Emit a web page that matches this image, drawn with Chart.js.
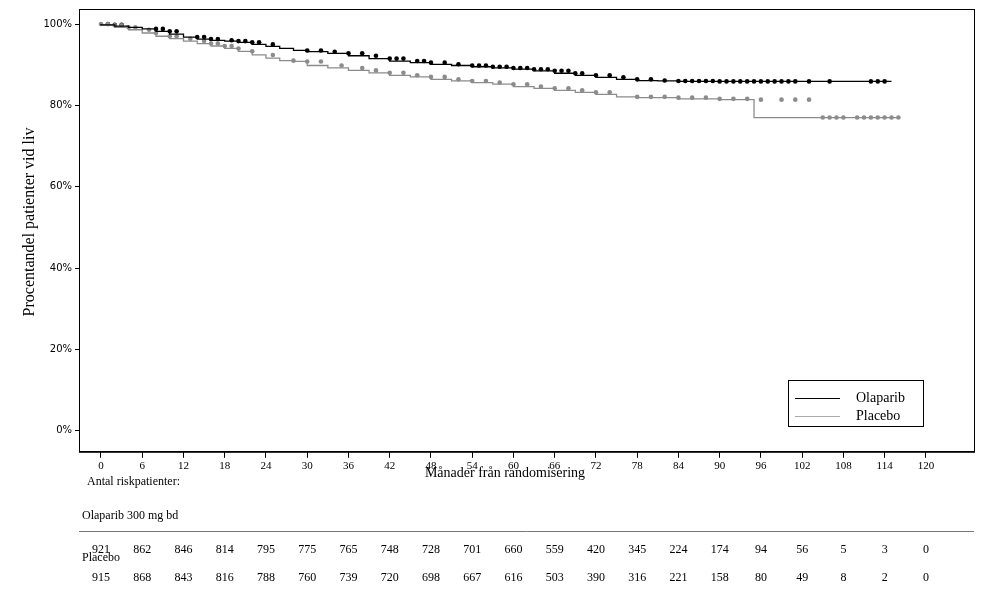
<!DOCTYPE html>
<html>
<head>
<meta charset="utf-8">
<script src="https://cdn.jsdelivr.net/npm/chart.js@4.4.1/dist/chart.umd.min.js"></script>
<style>
  html, body { margin: 0; padding: 0; background: #fff; }
  #wrap { width: 982px; height: 593px; }
</style>
</head>
<body>
<div id="wrap"><canvas id="km"></canvas></div>
<script>
// --- Data ---
const xTicks = [0, 6, 12, 18, 24, 30, 36, 42, 48, 54, 60, 66, 72, 78, 84, 90, 96, 102, 108, 114, 120];
const yTicks = [0, 20, 40, 60, 80, 100];

const olaTimes = [0, 2, 4, 6, 8, 10, 12, 14, 16, 18, 20, 22, 24, 26, 28, 30, 33, 36, 39, 42, 45, 48, 51, 54, 57, 60, 63, 66, 69, 72, 75, 78, 81, 84, 90, 115];
const olaSurv = [100, 99.8, 99.5, 99.2, 98.8, 98.2, 97.5, 96.8, 96.3, 96, 95.8, 95.5, 95, 94.5, 94, 93.5, 93.2, 92.8, 92.2, 91.5, 90.9, 90.5, 90.1, 89.8, 89.5, 89.2, 88.9, 88.5, 87.9, 87.4, 86.9, 86.4, 86.1, 86, 85.9, 85.9];
const plaTimes = [0, 2, 4, 6, 8, 10, 12, 14, 16, 18, 20, 22, 24, 26, 28, 30, 33, 36, 39, 42, 45, 48, 51, 54, 57, 60, 63, 66, 69, 72, 75, 78, 84, 90, 95, 104.5, 116];
const plaSurv = [100, 99.7, 99.2, 98.6, 97.8, 97, 96.4, 95.8, 95.2, 94.6, 94, 93.3, 92.4, 91.6, 91, 90.8, 89.8, 89.2, 88.6, 88, 87.4, 87, 86.4, 86, 85.6, 85.2, 84.6, 84.2, 83.7, 83.2, 82.7, 82.1, 81.9, 81.6, 81.4, 77, 77];

const olaCensor = [1, 2, 3, 8, 9, 10, 11, 14, 15, 16, 17, 19, 20, 21, 22, 23, 25, 30, 32, 34, 36, 38, 40, 42, 43, 44, 46, 47, 48, 50, 52, 54, 55, 56, 57, 58, 59, 60, 61, 62, 63, 64, 65, 66, 67, 68, 69, 70, 72, 74, 76, 78, 80, 82, 84, 85, 86, 87, 88, 89, 90, 91, 92, 93, 94, 95, 96, 97, 98, 99, 100, 101, 103, 106, 112, 113, 114];
const plaCensor = [0, 1, 2, 3, 4, 5, 7, 8, 10, 11, 13, 15, 16, 17, 18, 19, 20, 22, 25, 28, 30, 32, 35, 38, 40, 42, 44, 46, 48, 50, 52, 54, 56, 58, 60, 62, 64, 66, 68, 70, 72, 74, 78, 80, 82, 84, 86, 88, 90, 92, 94, 96, 99, 101, 103, 105, 106, 107, 108, 110, 111, 112, 113, 114, 115, 116];

const olaRisk = [921, 862, 846, 814, 795, 775, 765, 748, 728, 701, 660, 559, 420, 345, 224, 174, 94, 56, 5, 3, 0];
const plaRisk = [915, 868, 843, 816, 788, 760, 739, 720, 698, 667, 616, 503, 390, 316, 221, 158, 80, 49, 8, 2, 0];

// --- Helpers ---
function stepValue(times, surv, t) {
    let v = surv[0];
    for (let i = 0; i < times.length; i++) {
        if (times[i] <= t) v = surv[i];
    }
    return v;
}
function toPoints(times, surv) {
    return times.map((t, i) => ({ x: t, y: surv[i] }));
}
function censorPoints(ct, times, surv) {
    return ct.map(t => ({ x: t, y: stepValue(times, surv, t) }));
}

const SERIF = '"Liberation Serif", "DejaVu Serif", serif';
const OLA = '#000000';
const PLA = '#8c8c8c';

// --- Extra drawing: frame, legend, labels, risk table ---
const extras = {
    id: 'extras',
    afterDraw(chart) {
        const ctx = chart.ctx;
        const a = chart.chartArea;
        const xs = chart.scales.x;
        ctx.save();
        ctx.strokeStyle = '#000';
        ctx.lineWidth = 1;
        ctx.strokeRect(a.left + 0.5, a.top + 0.5, a.right - a.left, a.bottom - a.top);

        // legend
        ctx.strokeRect(788.5, 380.5, 135, 46);
        ctx.strokeStyle = OLA;
        ctx.beginPath(); ctx.moveTo(795, 398.5); ctx.lineTo(840, 398.5); ctx.stroke();
        ctx.strokeStyle = '#aaa';
        ctx.beginPath(); ctx.moveTo(795, 416.5); ctx.lineTo(840, 416.5); ctx.stroke();
        ctx.fillStyle = '#000';
        ctx.font = '14px ' + SERIF;
        ctx.textBaseline = 'middle';
        ctx.textAlign = 'left';
        ctx.fillText('Olaparib', 856, 398);
        ctx.fillText('Placebo', 856, 416);

        // y title
        ctx.save();
        ctx.translate(30, 222);
        ctx.rotate(-Math.PI / 2);
        ctx.textAlign = 'center';
        ctx.font = '16px ' + SERIF;
        ctx.fillText('Procentandel patienter vid liv', 0, 0);
        ctx.restore();

        // x title
        ctx.textAlign = 'center';
        ctx.font = '14px ' + SERIF;
        ctx.fillText('Månader från randomisering', 505, 473);

        // risk table
        ctx.textAlign = 'left';
        ctx.font = '12px ' + SERIF;
        ctx.fillText('Antal riskpatienter:', 87, 482);
        ctx.fillText('Olaparib 300 mg bd', 82, 516);
        ctx.fillText('Placebo', 82, 558);
        ctx.strokeStyle = '#777';
        ctx.beginPath(); ctx.moveTo(79, 531.5); ctx.lineTo(974, 531.5); ctx.stroke();
        ctx.textAlign = 'center';
        xTicks.forEach((t, i) => {
            const px = xs.getPixelForValue(t);
            ctx.fillText(String(olaRisk[i]), px, 550);
            ctx.fillText(String(plaRisk[i]), px, 578);
        });
        ctx.restore();
    }
};

new Chart(document.getElementById('km'), {
    type: 'scatter',
    data: {
        datasets: [
            { data: toPoints(olaTimes, olaSurv), showLine: true, stepped: 'after', borderColor: OLA, borderWidth: 1.3, pointRadius: 0 },
            { data: toPoints(plaTimes, plaSurv), showLine: true, stepped: 'after', borderColor: PLA, borderWidth: 1.3, pointRadius: 0 },
            { data: censorPoints(plaCensor, plaTimes, plaSurv), showLine: false, pointRadius: 2.3, pointBackgroundColor: PLA, pointBorderColor: PLA, pointBorderWidth: 0 },
            { data: censorPoints(olaCensor, olaTimes, olaSurv), showLine: false, pointRadius: 2.3, pointBackgroundColor: OLA, pointBorderColor: OLA, pointBorderWidth: 0 }
        ]
    },
    options: {
        responsive: true,
        maintainAspectRatio: false,
        animation: false,
        layout: { padding: { top: 8, right: 8, bottom: 118, left: 0 } },
        plugins: { legend: { display: false }, tooltip: { enabled: false } },
        scales: {
            x: {
                type: 'linear', min: -3.2, max: 127,
                afterBuildTicks: s => { s.ticks = xTicks.map(v => ({ value: v })); },
                grid: { display: true, drawOnChartArea: false, drawTicks: true, tickLength: 6, color: '#000' },
                border: { display: true, color: '#000' },
                ticks: { color: '#000', font: { family: SERIF, size: 11 }, padding: 2, maxRotation: 0 }
            },
            y: {
                min: -5.2, max: 103.7,
                afterBuildTicks: s => { s.ticks = yTicks.map(v => ({ value: v })); },
                afterFit: s => { s.width = 79; },
                grid: { display: true, drawOnChartArea: false, drawTicks: true, tickLength: 4, color: '#000' },
                border: { display: true, color: '#000' },
                ticks: { color: '#000', font: { family: '"DejaVu Sans", sans-serif', size: 10 }, padding: 3, callback: v => v + '%' }
            }
        }
    },
    plugins: [extras]
});
</script>
</body>
</html>
